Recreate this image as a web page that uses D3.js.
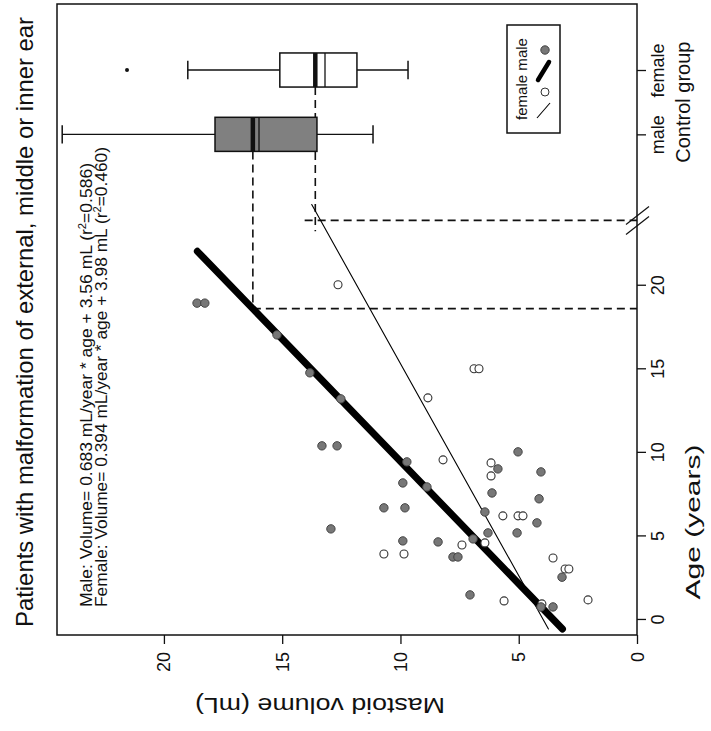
<!DOCTYPE html>
<html>
<head>
<meta charset="utf-8">
<script src="https://cdn.jsdelivr.net/npm/d3@7"></script>
<style>
body { margin: 0; background: #fff; }
text { font-family: "Liberation Sans", Arial, sans-serif; fill: #111; }
</style>
</head>
<body>
<div id="plot"></div>
<script>
// the figure is drawn turned 90deg: volume runs right->left, age runs bottom->top
var W = 711, H = 731;
var frame = {l:57, r:637, t:4, b:635};

// patients, [age (years), volume (mL)]
var malePts = [[18.9,18.6],[18.9,18.27],[17.0,15.22],[14.73,13.83],[13.17,12.52],[10.36,13.32],
  [10.36,12.68],[9.4,9.73],[8.14,9.9],[6.65,10.7],[6.65,9.81],[5.39,12.94],[4.67,9.9],[7.9,8.88],
  [10.0,5.03],[8.98,5.88],[8.8,4.06],[7.54,6.13],[7.19,4.14],[6.4,6.43],[5.75,4.23],[5.15,6.3],
  [5.15,5.07],[4.61,8.41],[4.79,6.93],[3.71,7.78],[3.71,7.57],[2.5,3.17],[1.44,7.06],[0.72,4.06],[0.72,3.55]];
var femalePts = [[20.0,12.64],[14.97,6.89],[14.97,6.68],[13.23,8.84],[9.52,8.2],[9.34,6.17],[8.56,6.17],
  [6.17,5.67],[6.17,5.03],[6.17,4.82],[4.43,7.4],[4.55,6.43],[3.89,10.7],[3.89,9.85],[3.65,3.55],
  [2.99,3.04],[2.99,2.88],[1.08,5.62],[1.14,2.07],[0.9,4.02]];

// regression lines: slope, intercept, age range
var fitSlope = [0.683, 0.394];
var fitIcpt = [3.56, 3.98];
var fitFrom = [-0.6, -0.6];
var fitTo = [22.0, 24.8];

// control group boxplots
var boxGroups = ["male", "female"];
var boxPos = [29, 32.85];
var boxLow = [11.16, 9.68];
var boxQ1 = [13.53, 11.84];
var boxMed = [16.24, 13.6];
var boxMid2 = [15.98, 13.19];
var boxQ3 = [17.84, 15.1];
var boxHigh = [24.3, 18.99];
var outliers = [[32.85, 21.56]];

// dashed guides
var cutAge = [18.57, 23.85];
var cutVolStart = [16.24, 14.05];
var vEndAge = [18.57, 23.2];

var ageTicks = [0, 5, 10, 15, 20];
var volTicks = [0, 5, 10, 15, 20];

var x = d3.scaleLinear().domain([0, 24.52]).range([frame.r, frame.l]);
var y = d3.scaleLinear().domain([-0.96, 36.8]).range([frame.b, frame.t]);

var svg = d3.select('#plot').append('svg').attr('width', W).attr('height', H);
svg.append('rect').attr('width', W).attr('height', H).attr('fill', '#fff');

// title
svg.append('text')
  .attr('transform', 'translate(33,322) rotate(-90)')
  .attr('text-anchor', 'middle')
  .style('font-size', '24px')
  .attr('textLength', 610).attr('lengthAdjust', 'spacingAndGlyphs')
  .text('Patients with malformation of external, middle or inner ear');

// dashed guides
var dash = svg.append('g').attr('stroke', '#111').attr('stroke-width', 1.6).attr('stroke-dasharray', '8,5').attr('fill', 'none');
boxGroups.forEach(function(g, i) {
  dash.append('line')
    .attr('x1', x(boxMed[i])).attr('x2', x(boxMed[i]))
    .attr('y1', y(boxPos[i] - 1.02)).attr('y2', y(vEndAge[i]));
  dash.append('line')
    .attr('x1', x(cutVolStart[i])).attr('x2', x(0))
    .attr('y1', y(cutAge[i])).attr('y2', y(cutAge[i]));
});

// regression lines
var lw = [7, 1.1];
fitSlope.forEach(function(s, i) {
  svg.append('line')
    .attr('x1', x(fitIcpt[i] + s * fitFrom[i])).attr('y1', y(fitFrom[i]))
    .attr('x2', x(fitIcpt[i] + s * fitTo[i])).attr('y2', y(fitTo[i]))
    .attr('stroke', '#000').attr('stroke-width', lw[i]).attr('stroke-linecap', 'round');
});

// points
svg.append('g').selectAll('circle.f').data(femalePts).enter().append('circle')
  .attr('cx', function(d) { return x(d[1]); })
  .attr('cy', function(d) { return y(d[0]); })
  .attr('r', 4).attr('fill', '#fff').attr('stroke', '#333').attr('stroke-width', 1.1);
svg.append('g').selectAll('circle.m').data(malePts).enter().append('circle')
  .attr('cx', function(d) { return x(d[1]); })
  .attr('cy', function(d) { return y(d[0]); })
  .attr('r', 4.2).attr('fill', '#777').attr('stroke', '#444').attr('stroke-width', 1);

// boxplots
var boxFill = ['#808080', '#fff'];
var bh = 1.02, ch = 0.55;
boxGroups.forEach(function(g, i) {
  var b = svg.append('g').attr('stroke', '#111');
  var p = boxPos[i];
  b.append('line').attr('x1', x(boxHigh[i])).attr('x2', x(boxQ3[i])).attr('y1', y(p)).attr('y2', y(p)).attr('stroke-width', 1.3);
  b.append('line').attr('x1', x(boxQ1[i])).attr('x2', x(boxLow[i])).attr('y1', y(p)).attr('y2', y(p)).attr('stroke-width', 1.3);
  [boxHigh[i], boxLow[i]].forEach(function(v) {
    b.append('line').attr('x1', x(v)).attr('x2', x(v)).attr('y1', y(p - ch)).attr('y2', y(p + ch)).attr('stroke-width', 1.5);
  });
  b.append('rect')
    .attr('x', x(boxQ3[i])).attr('width', x(boxQ1[i]) - x(boxQ3[i]))
    .attr('y', y(p + bh)).attr('height', y(p - bh) - y(p + bh))
    .attr('fill', boxFill[i]).attr('stroke-width', 1.5);
  b.append('line').attr('x1', x(boxMed[i])).attr('x2', x(boxMed[i])).attr('y1', y(p + bh)).attr('y2', y(p - bh)).attr('stroke-width', 4.5);
  b.append('line').attr('x1', x(boxMid2[i])).attr('x2', x(boxMid2[i])).attr('y1', y(p + bh)).attr('y2', y(p - bh)).attr('stroke-width', 1.3);
});
svg.append('g').selectAll('circle.o').data(outliers).enter().append('circle')
  .attr('cx', function(d) { return x(d[1]); })
  .attr('cy', function(d) { return y(d[0]); })
  .attr('r', 2).attr('fill', '#111');

// frame
svg.append('rect')
  .attr('x', frame.l).attr('y', frame.t)
  .attr('width', frame.r - frame.l).attr('height', frame.b - frame.t)
  .attr('fill', 'none').attr('stroke', '#111').attr('stroke-width', 1.5);

// axis break marks
[-5, 5].forEach(function(o) {
  var yb = y(cutAge[1]) + o;
  svg.append('line').attr('x1', frame.r - 11).attr('y1', yb + 9).attr('x2', frame.r + 12).attr('y2', yb - 9)
    .attr('stroke', '#111').attr('stroke-width', 1.2);
});

// volume axis (bottom)
var xAxis = svg.append('g').attr('transform', 'translate(0,' + frame.b + ')')
  .call(d3.axisBottom(x).tickValues(volTicks).tickSize(9).tickFormat(d3.format('d')));
xAxis.select('.domain').remove();
xAxis.selectAll('line').attr('stroke', '#111').attr('stroke-width', 1.3);
xAxis.selectAll('text')
  .attr('y', 0).attr('dy', 0)
  .attr('transform', function() { return 'translate(6,' + 17 + ') rotate(-90)'; })
  .attr('text-anchor', 'end')
  .style('font-size', '18px');

// age axis (right)
var yAxis = svg.append('g').attr('transform', 'translate(' + frame.r + ',0)')
  .call(d3.axisRight(y).tickValues(ageTicks).tickSize(9).tickFormat(d3.format('d')));
yAxis.select('.domain').remove();
yAxis.selectAll('line').attr('stroke', '#111').attr('stroke-width', 1.3);
yAxis.selectAll('text')
  .attr('x', 0).attr('dy', 0)
  .attr('transform', 'translate(27,0) rotate(-90)')
  .attr('text-anchor', 'middle')
  .style('font-size', '18px');

// control group axis (right)
var gScale = d3.scaleOrdinal().domain(boxGroups).range(boxPos.map(y));
var gAxis = svg.append('g').attr('transform', 'translate(' + frame.r + ',0)')
  .call(d3.axisRight(gScale).tickSize(9));
gAxis.select('.domain').remove();
gAxis.selectAll('line').attr('stroke', '#111').attr('stroke-width', 1.3);
gAxis.selectAll('text')
  .attr('x', 0).attr('dy', 0)
  .attr('transform', 'translate(27,0) rotate(-90)')
  .attr('text-anchor', 'middle')
  .style('font-size', '18px');

// axis titles
svg.append('text')
  .attr('transform', 'translate(690,' + y((boxPos[0] + boxPos[1]) / 2) + ') rotate(-90)')
  .attr('text-anchor', 'middle').style('font-size', '20px')
  .text('Control group');
svg.append('text')
  .attr('transform', 'translate(700,522) rotate(-90)')
  .attr('text-anchor', 'middle').style('font-size', '21px')
  .attr('textLength', 155).attr('lengthAdjust', 'spacingAndGlyphs')
  .text('Age (years)');
svg.append('text')
  .attr('transform', 'translate(320,698) rotate(180)')
  .attr('text-anchor', 'middle').style('font-size', '22px')
  .attr('textLength', 250).attr('lengthAdjust', 'spacingAndGlyphs')
  .text('Mastoid volume (mL)');

// equations
var eqText = [
  ['Male: Volume= 0.683 mL/year * age + 3.56 mL (r', '2', '=0.586)'],
  ['Female: Volume= 0.394 mL/year * age + 3.98 mL (r', '2', '=0.460)']
];
var eqX = [92, 107], eqLen = [444, 460];
eqText.forEach(function(parts, i) {
  var t = svg.append('text')
    .attr('transform', 'translate(' + eqX[i] + ',607) rotate(-90)')
    .style('font-size', '17px')
    .attr('textLength', eqLen[i]).attr('lengthAdjust', 'spacingAndGlyphs');
  t.append('tspan').text(parts[0]);
  t.append('tspan').attr('dy', -6).style('font-size', '11px').text(parts[1]);
  t.append('tspan').attr('dy', 6).text(parts[2]);
});

// legend
var leg = svg.append('g');
leg.append('rect').attr('x', 507).attr('y', 25).attr('width', 53).attr('height', 108)
  .attr('fill', '#fff').attr('stroke', '#111').attr('stroke-width', 1.5);
leg.append('text').attr('transform', 'translate(527,120) rotate(-90)')
  .style('font-size', '14px').attr('textLength', 82).attr('lengthAdjust', 'spacingAndGlyphs')
  .text('female male');
leg.append('line').attr('x1', 538).attr('y1', 80).attr('x2', 549).attr('y2', 62)
  .attr('stroke', '#000').attr('stroke-width', 4.5).attr('stroke-linecap', 'round');
leg.append('circle').attr('cx', 545).attr('cy', 50).attr('r', 4.2).attr('fill', '#777').attr('stroke', '#444');
leg.append('line').attr('x1', 537).attr('y1', 118).attr('x2', 550).attr('y2', 103)
  .attr('stroke', '#000').attr('stroke-width', 1.1);
leg.append('circle').attr('cx', 545).attr('cy', 92).attr('r', 4).attr('fill', '#fff').attr('stroke', '#333');
</script>
</body>
</html>
